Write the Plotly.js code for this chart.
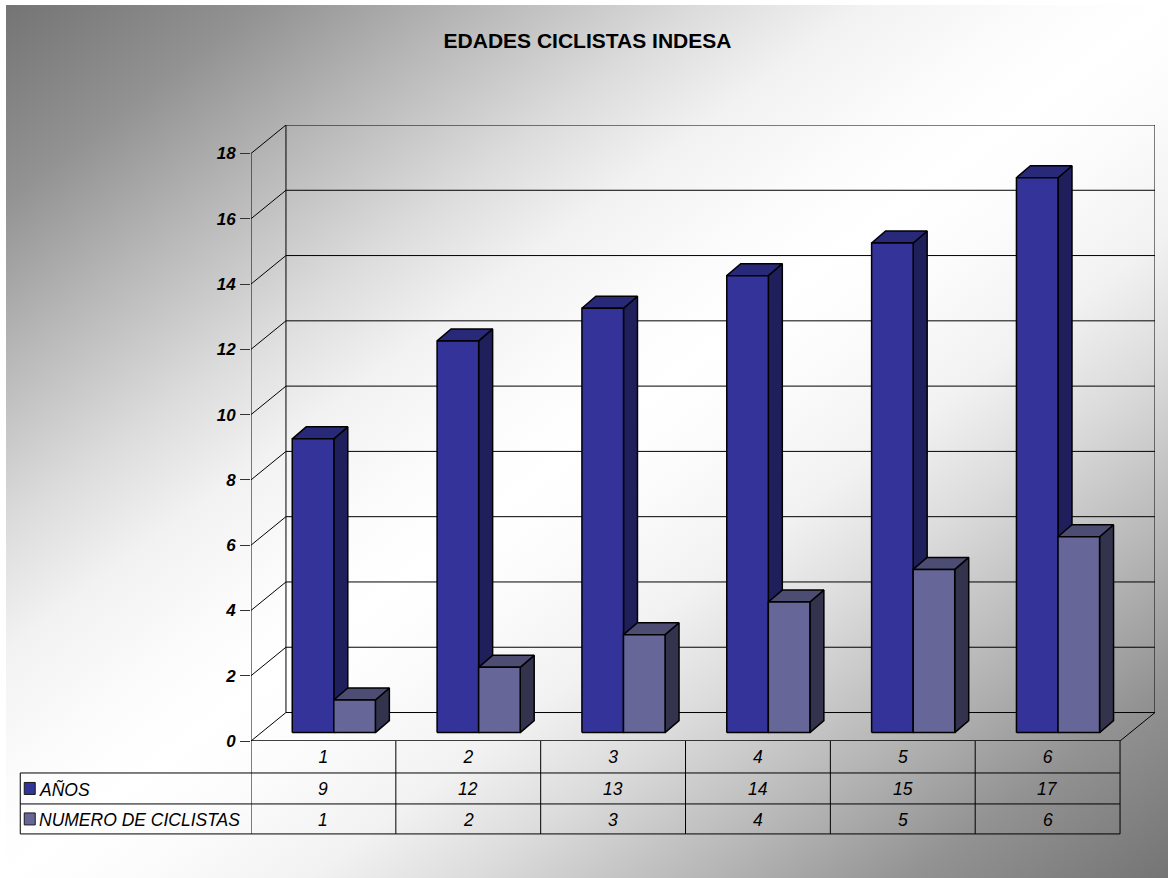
<!DOCTYPE html>
<html>
<head>
<meta charset="utf-8">
<script src="https://cdn.plot.ly/plotly-3.0.1.min.js"></script>
<style>
  html, body { margin: 0; padding: 0; background: #fff; }
  #backdrop {
    position: absolute; left: 6px; top: 5px; width: 1162px; height: 873px;
    background: linear-gradient(to bottom right,
      #747474 0%, #929292 11%, #b6b6b6 20%, #dcdcdc 30%, #f2f2f2 37%, #fcfcfc 45%, #ffffff 50%,
      #fcfcfc 55%, #f2f2f2 63%, #dcdcdc 70%, #b6b6b6 80%, #929292 89%, #747474 100%);
  }
  #chart { position: absolute; left: 0; top: 0; width: 1168px; height: 878px; }
</style>
</head>
<body>
<div id="backdrop"></div>
<div id="chart"></div>
<script>
const categories = [1, 2, 3, 4, 5, 6];
const anos = [9, 12, 13, 14, 15, 17];
const ciclistas = [1, 2, 3, 4, 5, 6];
const yTicks = [0, 2, 4, 6, 8, 10, 12, 14, 16, 18];
const seriesNames = ['AÑOS', 'NUMERO DE CICLISTAS'];

const FONT = '"Liberation Sans", Arial, sans-serif';
const W = 1168, H = 878;
const frontL = 250.5, frontR = 1120.5, frontT = 153, frontB = 741;
const pxX = (frontR - frontL) / 6;
const pxY = (frontB - frontT) / 18;

// Oblique projection offsets, in axis units
const wallDx = 35 / pxX, wallDy = 28.5 / pxY;
const barW = 41.6 / pxX, barCentre = 10.4 / pxX, barBase = 8.4 / pxY;
const sideDx = 14 / pxX, sideDy = 12 / pxY;

// The plot area spans the front face plus the depth of the walls
const xMax = 6.5 + wallDx, yMax = 18 + wallDy;
const areaR = frontL + (xMax - 0.5) * pxX;
const areaT = frontB - yMax * pxY;

function barFaces(values, left) {
  const f = { front: { x: [], y: [] }, side: { x: [], y: [] }, top: { x: [], y: [] } };
  const add = (face, pts) => {
    pts.concat([pts[0]]).forEach(p => { face.x.push(p[0]); face.y.push(p[1]); });
    face.x.push(null); face.y.push(null);
  };
  values.forEach((v, i) => {
    const x0 = categories[i] + barCentre + left * barW, x1 = x0 + barW;
    const y0 = barBase, y1 = barBase + v;
    add(f.front, [[x0, y0], [x1, y0], [x1, y1], [x0, y1]]);
    add(f.side, [[x1, y0], [x1 + sideDx, y0 + sideDy], [x1 + sideDx, y1 + sideDy], [x1, y1]]);
    add(f.top, [[x0, y1], [x1, y1], [x1 + sideDx, y1 + sideDy], [x0 + sideDx, y1 + sideDy]]);
  });
  return f;
}

function faceTrace(face, color, name) {
  return { type: 'scatter', mode: 'lines', x: face.x, y: face.y, name: name, fill: 'toself',
           fillcolor: color, line: { color: '#000', width: 1.5 }, cliponaxis: false,
           showlegend: false, hoverinfo: 'skip' };
}

function wallTrace(x, y, width) {
  return { type: 'scatter', mode: 'lines', x: x, y: y, line: { color: '#000', width: width },
           cliponaxis: false, showlegend: false, hoverinfo: 'skip' };
}

// Back wall, side wall and floor
const gridX = [], gridY = [];
yTicks.forEach(v => {
  gridX.push(0.5, 0.5 + wallDx, xMax, null);
  gridY.push(v, v + wallDy, v + wallDy, null);
});
const walls = [
  wallTrace(gridX, gridY, 1),
  wallTrace([0.5 + wallDx, 0.5 + wallDx, null, xMax, xMax, 6.5, null, 0.5, 0.5],
            [wallDy, yMax, null, yMax, wallDy, 0, null, 0, 18], 1),
  wallTrace([0.5, 6.5], [0, 0], 1.5)
];

const blue = barFaces(anos, -1);
const grey = barFaces(ciclistas, 0);
const colours = {
  blue: { front: '#333399', side: '#1f1f5c', top: '#29297a' },
  grey: { front: '#666699', side: '#33334d', top: '#4d4d73' }
};
const traces = walls.concat([
  faceTrace(blue.side, colours.blue.side, seriesNames[0]),
  faceTrace(blue.top, colours.blue.top, seriesNames[0]),
  faceTrace(blue.front, colours.blue.front, seriesNames[0]),
  faceTrace(grey.side, colours.grey.side, seriesNames[1]),
  faceTrace(grey.top, colours.grey.top, seriesNames[1]),
  faceTrace(grey.front, colours.grey.front, seriesNames[1])
]);

// Data table under the plot
const paperY = py => (frontB - py) / (frontB - areaT);
const paperX = px => (px - frontL) / (areaR - frontL);
const rowEdges = [741, 773, 804, 834];
const tableLeft = 19.5;
const shapes = [];
const lineStyle = { color: '#000', width: 1 };

rowEdges.slice(1).forEach(py => {
  shapes.push({ type: 'line', xref: 'paper', yref: 'paper', x0: paperX(tableLeft), x1: paperX(frontR),
                y0: paperY(py), y1: paperY(py), line: lineStyle });
});
[0, 1, 2, 3, 4, 5, 6].forEach(k => {
  shapes.push({ type: 'line', xref: 'x', yref: 'paper', x0: 0.5 + k, x1: 0.5 + k,
                y0: paperY(rowEdges[0]), y1: paperY(rowEdges[3]), line: lineStyle });
});
shapes.push({ type: 'line', xref: 'paper', yref: 'paper', x0: paperX(tableLeft), x1: paperX(tableLeft),
              y0: paperY(rowEdges[1]), y1: paperY(rowEdges[3]), line: lineStyle });

const annotations = [];
const cellFont = { family: FONT, size: 17.5, style: 'italic', color: '#000' };
[anos, ciclistas].forEach((row, r) => {
  const mid = (rowEdges[r + 1] + rowEdges[r + 2]) / 2;
  const textY = paperY(mid + 1);
  row.forEach((v, i) => {
    annotations.push({ xref: 'x', yref: 'paper', x: categories[i], y: textY, text: String(v),
                       showarrow: false, font: cellFont, xanchor: 'center', yanchor: 'middle' });
  });
  annotations.push({ xref: 'paper', yref: 'paper', x: paperX(36.5), y: textY, text: seriesNames[r],
                     showarrow: false, font: cellFont, xanchor: 'left', yanchor: 'middle' });
  shapes.push({ type: 'rect', xref: 'paper', yref: 'paper', x0: paperX(23.5), x1: paperX(34.5),
                y0: paperY(mid - 6), y1: paperY(mid + 6),
                fillcolor: r === 0 ? colours.blue.front : colours.grey.front,
                line: { color: '#1a1a1a', width: 1 } });
});

const layout = {
  width: W, height: H,
  margin: { l: frontL, r: W - areaR, t: areaT, b: H - frontB, pad: 0 },
  paper_bgcolor: 'rgba(0,0,0,0)',
  plot_bgcolor: 'rgba(0,0,0,0)',
  hovermode: false,
  showlegend: false,
  title: { text: 'EDADES CICLISTAS INDESA', x: 587.5 / W, xanchor: 'center', xref: 'container',
           y: 1 - 41 / H, yanchor: 'middle', yref: 'container',
           font: { family: FONT, size: 21, weight: 'bold', color: '#000' } },
  xaxis: {
    range: [0.5, xMax], tickmode: 'array', tickvals: categories, ticktext: categories.map(String),
    showgrid: false, zeroline: false, showline: false,
    ticks: '', ticklabelstandoff: 3, tickfont: cellFont
  },
  yaxis: {
    range: [0, yMax], tickmode: 'array', tickvals: yTicks, ticktext: yTicks.map(String),
    showgrid: false, zeroline: false, showline: false,
    ticks: 'outside', ticklen: 10, tickwidth: 1, tickcolor: '#333',
    ticklabelstandoff: 1,
    tickfont: { family: FONT, size: 17, style: 'italic', weight: 'bold', color: '#000' }
  },
  shapes: shapes,
  annotations: annotations
};

Plotly.newPlot('chart', traces, layout, { displayModeBar: false, staticPlot: true });
</script>
</body>
</html>
